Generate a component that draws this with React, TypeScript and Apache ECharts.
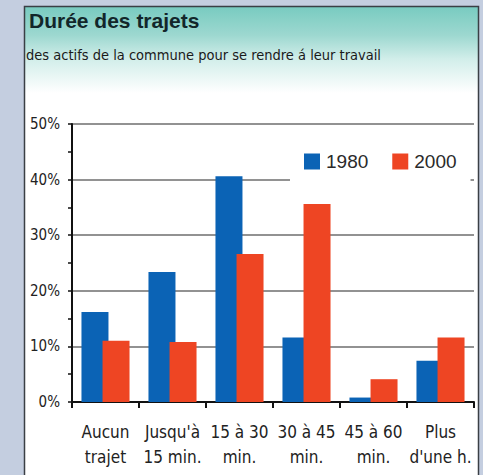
import React, { useEffect, useRef } from "react";
import * as echarts from "echarts";

const categories = ["Aucun\ntrajet", "Jusqu'à\n15 min.", "15 à 30\nmin.", "30 à 45\nmin.", "45 à 60\nmin.", "Plus\nd'une h."];
const values1980 = [16.2, 23.4, 40.6, 11.6, 0.8, 7.4];
const values2000 = [11.0, 10.8, 26.6, 35.6, 4.1, 11.6];
const seriesNames = ["1980", "2000"];
const titleText = "Durée des trajets";
const subtitleText = "des actifs de la commune pour se rendre á leur travail";

const NARROW = "'Liberation Sans Narrow', 'DejaVu Sans Condensed', 'Liberation Sans', sans-serif";
const SANS = "'Liberation Sans', Arial, sans-serif";

export default function App() {
  const ref = useRef<HTMLDivElement>(null);
  useEffect(() => {
    if (!ref.current) return;
    const chart = echarts.init(ref.current, null, { renderer: "svg" });
    chart.setOption({
      animation: false,
      backgroundColor: "#c4cee0",
      graphic: [
        {
          type: "rect",
          z: 0,
          shape: { x: 24.5, y: 6.5, width: 454, height: 480 },
          style: {
            stroke: "#3a3f45",
            lineWidth: 1.5,
            fill: new echarts.graphic.LinearGradient(0, 0, 0, 1, [
              { offset: 0, color: "#78cbc0" },
              { offset: 0.06, color: "#9dd8d0" },
              { offset: 0.11, color: "#d2eeea" },
              { offset: 0.18, color: "#ffffff" },
              { offset: 1, color: "#ffffff" },
            ]),
          },
        },
        {
          type: "text",
          z: 1,
          x: 29,
          y: 10,
          style: { text: titleText, font: `bold 21px ${SANS}`, fill: "#12262a" },
        },
        {
          type: "text",
          z: 1,
          x: 26,
          y: 47,
          style: { text: subtitleText, font: `14.5px ${NARROW}`, fill: "#1a1a1a" },
        },
      ],
      legend: {
        left: 290,
        top: 140,
        padding: [12, 14, 16, 14],
        backgroundColor: "#ffffff",
        icon: "rect",
        itemWidth: 16,
        itemHeight: 16,
        itemGap: 24,
        textStyle: { fontFamily: SANS, fontSize: 19, color: "#2a2a2a", padding: [0, 0, 0, 1] },
        data: seriesNames,
      },
      grid: {
        left: 72,
        right: 9,
        top: 124,
        bottom: 73,
        show: true,
        borderColor: "#3a3f45",
        borderWidth: 1.5,
        backgroundColor: "transparent",
        containLabel: false,
      },
      xAxis: {
        type: "category",
        data: categories,
        axisLine: { show: true, lineStyle: { color: "#111", width: 2 } },
        axisTick: { show: true, length: 6, lineStyle: { color: "#111", width: 2 } },
        axisLabel: {
          interval: 0,
          margin: 17,
          fontFamily: NARROW,
          fontSize: 17,
          lineHeight: 25,
          color: "#222",
        },
      },
      yAxis: {
        type: "value",
        min: 0,
        max: 50,
        interval: 10,
        axisLine: { show: true, lineStyle: { color: "#111", width: 2 } },
        axisTick: { show: true, length: 4, lineStyle: { color: "#111", width: 1.5 } },
        minorTick: { show: true, splitNumber: 2, length: 4, lineStyle: { color: "#111", width: 1.5 } },
        splitLine: { show: true, lineStyle: { color: "#6e6e6e", width: 1.5 } },
        axisLabel: {
          formatter: "{value}%",
          margin: 12,
          fontFamily: NARROW,
          fontSize: 15,
          color: "#222",
        },
      },
      series: [
        {
          name: seriesNames[0],
          type: "bar",
          data: values1980,
          barWidth: 27,
          barGap: "-22%",
          itemStyle: { color: "#0b63b5" },
        },
        {
          name: seriesNames[1],
          type: "bar",
          data: values2000,
          barWidth: 27,
          barGap: "-22%",
          itemStyle: { color: "#ee4523" },
        },
      ],
    });
    return () => chart.dispose();
  }, []);
  return <div ref={ref} style={{ position: "fixed", left: 0, top: 0, width: 483, height: 475 }} />;
}
